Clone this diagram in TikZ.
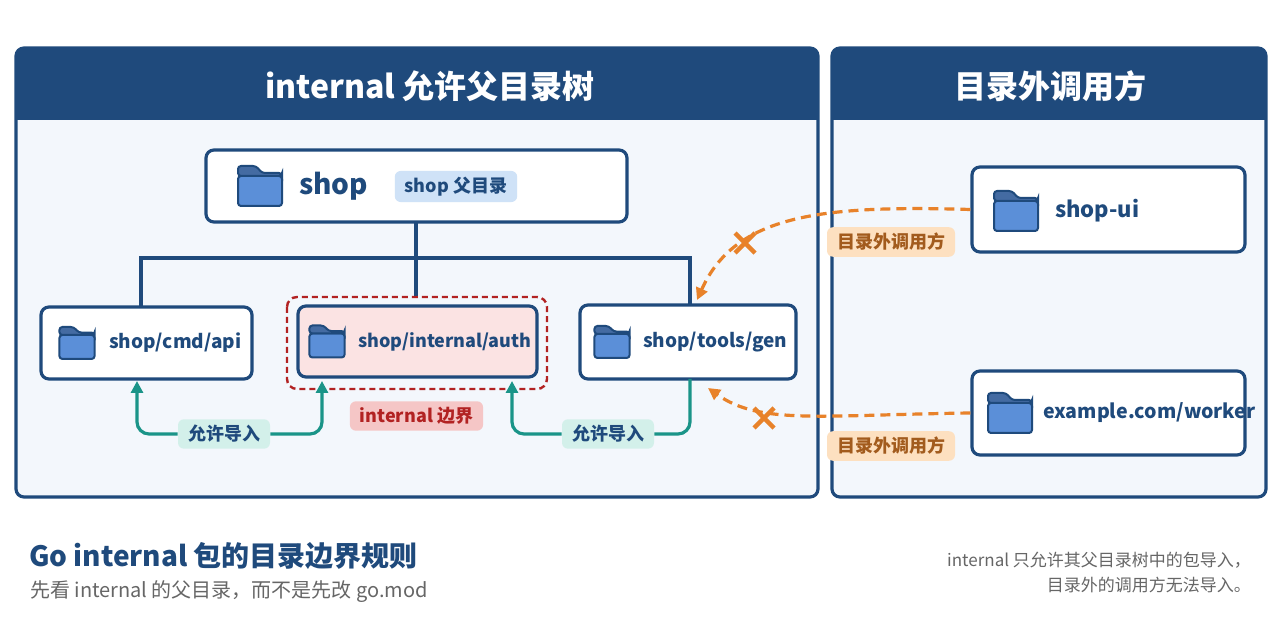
\documentclass[tikz,border=0pt]{standalone}
\usepackage{fontspec}
\setmainfont{Noto Sans CJK SC}
\usetikzlibrary{arrows.meta,positioning,calc}
\definecolor{navy}{HTML}{1F4A7C}
\definecolor{panelbg}{HTML}{F3F7FC}
\definecolor{tagblue}{HTML}{CFE2F7}
\definecolor{authpink}{HTML}{FBE3E3}
\definecolor{bordred}{HTML}{B22222}
\definecolor{tagred}{HTML}{F5C6C6}
\definecolor{teal}{HTML}{1A9488}
\definecolor{tagteal}{HTML}{D3F0EA}
\definecolor{orng}{HTML}{E8822A}
\definecolor{tagorng}{HTML}{FDE0C0}
\definecolor{folderfill}{HTML}{5B8FD8}
\tikzset{
  pkg/.style={draw=navy,line width=1.6pt,rounded corners=4pt,fill=white},
  tag/.style={rounded corners=3pt,inner xsep=5pt,inner ysep=3pt,font=\fontsize{9}{10}\selectfont\bfseries},
  lbl/.style={anchor=west,text=navy,font=\fontsize{9.5}{11}\selectfont\bfseries},
  folder/.pic={
    \draw[navy,line width=1pt,fill=folderfill,rounded corners=1.5pt]
      (-22,-10)--(-22,20)--(22,20)--(22,-10)--cycle;
    \draw[navy,line width=1pt,fill=folderfill!75!black,rounded corners=1.5pt]
      (-22,-10)--(-22,-20)--(-4,-20)--(2,-13)--(22,-13)--(22,-10)--cycle;
  },
  allow/.style={teal,line width=1.6pt,rounded corners=6pt,-{Triangle[length=6pt,width=6pt]}},
  deny/.style={orng,line width=1.6pt,dash pattern=on 5pt off 3pt,-{Triangle[length=6pt,width=6pt]}},
  cross/.style={orng,line width=2.2pt},
}
\begin{document}
\begin{tikzpicture}[x=0.5pt,y=-0.5pt]
  \useasboundingbox[fill=white] (0,0) rectangle (1280,640);
  % panels
  \draw[navy,line width=1.6pt,fill=panelbg,rounded corners=4pt] (16,48) rectangle (818,497);
  \fill[navy,rounded corners=4pt] (16,48) rectangle (818,120);
  \fill[navy] (16,100) rectangle (818,120);
  \node[white,font=\fontsize{16}{18}\selectfont\bfseries] (ltitle) at (430,86) {internal 允许父目录树};
  \draw[navy,line width=1.6pt,fill=panelbg,rounded corners=4pt] (832,48) rectangle (1266,497);
  \fill[navy,rounded corners=4pt] (832,48) rectangle (1266,120);
  \fill[navy] (832,100) rectangle (1266,120);
  \node[white,font=\fontsize{16}{18}\selectfont\bfseries] (rtitle) at (1050,86) {目录外调用方};

  % tree lines
  \draw[navy,line width=1.6pt] (416,222)--(416,298) (141,307)--(141,258)--(690,258)--(690,305);

  % boxes
  \node[pkg,minimum width=210.5pt,minimum height=36pt] (shop) at (416.5,186) {};
  \pic at (260,186) {folder};
  \node[lbl,font=\fontsize{14}{16}\selectfont\bfseries] (shoplbl) at (292,186) {shop};
  \node[tag,fill=tagblue,text=navy] (shoptag) at (456,186.5) {shop 父目录};

  \draw[bordred,line width=1.2pt,dash pattern=on 3pt off 2pt,rounded corners=5pt] (287,297) rectangle (547,389);
  \node[pkg,minimum width=105.5pt,minimum height=36pt] (api) at (146.5,343) {};
  \pic[scale=0.8] at (77,343) {folder};
  \node[lbl] (apilbl) at (102,343) {shop/cmd/api};
  \node[pkg,fill=authpink,minimum width=119.5pt,minimum height=35.5pt] (auth) at (417.5,341.5) {};
  \pic[scale=0.8] at (327,341.5) {folder};
  \node[lbl,font=\fontsize{9}{11}\selectfont\bfseries] (authlbl) at (351,341.5) {shop/internal/auth};
  \node[pkg,minimum width=108pt,minimum height=37pt] (gen) at (688,342) {};
  \pic[scale=0.8] at (612,342) {folder};
  \node[lbl] (genlbl) at (636,342) {shop/tools/gen};

  \node[tag,fill=tagred,text=bordred] (bound) at (416.5,416) {internal 边界};

  % allowed imports
  \node[tag,fill=tagteal,text=navy] (allow1) at (224,434) {允许导入};
  \node[tag,fill=tagteal,text=navy] (allow2) at (608,434) {允许导入};
  \draw[allow] (allow1.west)--(137,434)--(137,381);
  \draw[allow] (allow1.east)--(322,434)--(322,381);
  \draw[allow] (allow2.west)--(512,434)--(512,381);
  \draw[teal,line width=1.6pt,rounded corners=6pt] (allow2.east)--(690,434)--(690,379);

  % outside callers
  \node[pkg,minimum width=136.5pt,minimum height=42.5pt] (ui) at (1108.5,209.5) {};
  \pic at (1016,211) {folder};
  \node[lbl,font=\fontsize{11}{13}\selectfont\bfseries] (uilbl) at (1048,211) {shop-ui};
  \node[pkg,minimum width=136.5pt,minimum height=42pt] (worker) at (1108.5,413) {};
  \pic at (1010,413) {folder};
  \node[lbl,font=\fontsize{9.8}{12}\selectfont\bfseries] (workerlbl) at (1036,413) {example.com/worker};

  \draw[deny] (ui.west) .. controls (820,205) and (735,215) .. (697,300);
  \draw[deny] (worker.west) .. controls (820,415) and (760,425) .. (708,388);
  \draw[cross] (735,233)--(755,253) (755,233)--(735,253);
  \draw[cross] (754,408)--(774,428) (774,408)--(754,428);
  \node[tag,fill=tagorng,text=orng!70!black] (out1) at (891,242) {目录外调用方};
  \node[tag,fill=tagorng,text=orng!70!black] (out2) at (891,446) {目录外调用方};

  % captions
  \node[anchor=west,text=navy,font=\fontsize{14}{16}\selectfont\bfseries] (cap) at (22,556) {Go internal 包的目录边界规则};
  \node[anchor=west,text=gray!80!black,font=\fontsize{10}{12}\selectfont] (sub) at (23,592) {先看 internal 的父目录，而不是先改 go.mod};
  \node[anchor=east,text=gray!80!black,align=right,font=\fontsize{8.5}{12.5}\selectfont] (note) at (1258,573) {internal 只允许其父目录树中的包导入，\\目录外的调用方无法导入。};
\end{tikzpicture}
\end{document}
